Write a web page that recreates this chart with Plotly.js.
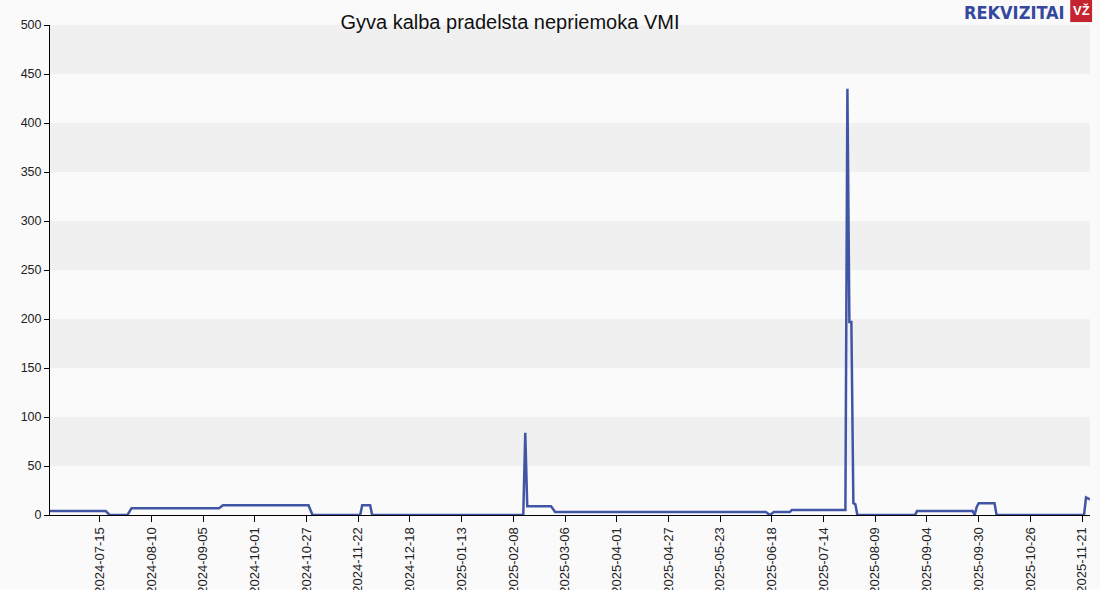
<!DOCTYPE html>
<html>
<head>
<meta charset="utf-8">
<script src="https://cdn.plot.ly/plotly-3.0.1.min.js"></script>
<style>
html,body{margin:0;padding:0;background:#fafafa;}
#chart{width:1100px;height:590px;}
</style>
</head>
<body>
<div id="chart"></div>
<script>
const titleText = "Gyva kalba pradelsta nepriemoka VMI";
const dates = [
  "2024-06-20","2024-07-18","2024-07-20","2024-07-29","2024-07-31",
  "2024-09-13","2024-09-15","2024-10-28","2024-10-30","2024-11-23",
  "2024-11-24","2024-11-28","2024-11-29","2025-02-13","2025-02-14",
  "2025-02-15","2025-02-27","2025-03-01","2025-06-15","2025-06-17",
  "2025-06-19","2025-06-27","2025-06-28","2025-07-25","2025-07-26",
  "2025-07-27","2025-07-28","2025-07-29","2025-07-30","2025-07-31",
  "2025-08-29","2025-08-30","2025-09-27","2025-09-28","2025-09-29",
  "2025-09-30","2025-10-08","2025-10-09","2025-11-22","2025-11-23",
  "2025-11-25"
];
const values = [
  4,4,0,0,7,
  7,10,10,0,0,
  10,10,0,0,84,
  9,9,3,3,0,
  3,3,5,5,435,
  197,197,12,11,0,
  0,4,4,0,8,
  12,12,0,0,18,
  16
];
const tickDates = [
  "2024-07-15","2024-08-10","2024-09-05","2024-10-01","2024-10-27",
  "2024-11-22","2024-12-18","2025-01-13","2025-02-08","2025-03-06",
  "2025-04-01","2025-04-27","2025-05-23","2025-06-18","2025-07-14",
  "2025-08-09","2025-09-04","2025-09-30","2025-10-26","2025-11-21"
];
const yTicks = [0,50,100,150,200,250,300,350,400,450,500];
const bandRanges = [[50,100],[150,200],[250,300],[350,400],[450,500]];

const shapes = bandRanges.map(b => ({
  type:'rect', xref:'paper', yref:'y', x0:0, x1:1, y0:b[0], y1:b[1],
  fillcolor:'#f0f0f0', line:{width:0}, layer:'below'
}));
shapes.push({type:'rect', xref:'paper', yref:'paper', x0:0.981, x1:1.002, y0:1.006, y1:1.051,
  fillcolor:'#c4232f', line:{width:0}});

const trace = {
  x: dates, y: values, type:'scatter', mode:'lines',
  line:{color:'#4155a5', width:2.5}, hoverinfo:'skip'
};

const layout = {
  width:1100, height:590,
  margin:{l:50, r:10, t:25, b:75},
  paper_bgcolor:'#fafafa', plot_bgcolor:'#fafafa',
  showlegend:false,
  font:{family:'"Liberation Sans", Arial, sans-serif', size:13, color:'#222'},
  title:{text:titleText, xref:'container', yref:'container', x:0.4636, y:0.963,
         xanchor:'center', yanchor:'middle',
         font:{family:'"Liberation Sans", Arial, sans-serif', size:20, color:'#111'}},
  xaxis:{
    type:'date', range:['2024-06-20','2025-11-25'],
    tickmode:'array', tickvals:tickDates, ticktext:tickDates,
    tickangle:-90, ticks:'outside', ticklen:6, tickcolor:'#000',
    showline:true, linecolor:'#000', linewidth:1, showgrid:false, zeroline:false,
    automargin:false, tickfont:{size:13, color:'#222'}
  },
  yaxis:{
    range:[0,500], tickmode:'array', tickvals:yTicks, ticktext:yTicks.map(String),
    ticks:'outside', ticklen:5, tickcolor:'#000',
    showline:true, linecolor:'#000', linewidth:1, showgrid:false, zeroline:false,
    automargin:false, tickfont:{size:12.5, color:'#222'}
  },
  shapes: shapes,
  annotations:[
    {text:'<b>REKVIZITAI</b>', xref:'paper', yref:'paper', x:0.978, y:1.052,
     xanchor:'right', yanchor:'top', showarrow:false,
     font:{family:'"Liberation Sans Narrow", "DejaVu Sans Condensed", sans-serif', size:18, color:'#3548a0'}},
    {text:'<b>VŽ</b>', xref:'paper', yref:'paper', x:0.9915, y:1.029,
     xanchor:'center', yanchor:'middle', showarrow:false,
     font:{family:'"Liberation Sans", Arial, sans-serif', size:13, color:'#ffffff'}}
  ]
};

Plotly.newPlot('chart', [trace], layout, {displayModeBar:false, staticPlot:true});
</script>
</body>
</html>
